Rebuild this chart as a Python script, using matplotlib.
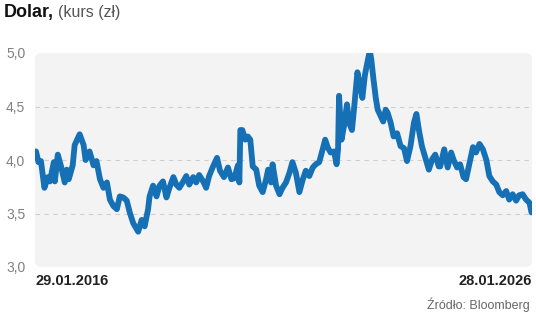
import matplotlib
matplotlib.use("Agg")
import matplotlib.pyplot as plt
from matplotlib.patches import FancyBboxPatch
from matplotlib import font_manager as fm

names = {f.name for f in fm.fontManager.ttflist}
NARROW = 'Liberation Sans Narrow' if 'Liberation Sans Narrow' in names else 'Liberation Sans'

# decimal-year time stamps and USD/PLN rate
years = [2016.08, 2016.13, 2016.18, 2016.25, 2016.32, 2016.36, 2016.44, 2016.46, 2016.52, 2016.58,
         2016.66, 2016.70, 2016.74, 2016.82, 2016.86, 2016.96, 2017.04, 2017.08, 2017.16, 2017.24,
         2017.30, 2017.37, 2017.44, 2017.51, 2017.57, 2017.64, 2017.71, 2017.77, 2017.84, 2017.91,
         2017.97, 2018.04, 2018.14, 2018.21, 2018.27, 2018.34, 2018.37, 2018.44, 2018.51, 2018.57,
         2018.64, 2018.71, 2018.77, 2018.85, 2018.91, 2018.97, 2019.05, 2019.11, 2019.17, 2019.25,
         2019.31, 2019.37, 2019.45, 2019.51, 2019.57, 2019.65, 2019.73, 2019.79, 2019.87, 2019.95,
         2020.02, 2020.08, 2020.15, 2020.18, 2020.20, 2020.24, 2020.30, 2020.35, 2020.40, 2020.45,
         2020.52, 2020.58, 2020.65, 2020.72, 2020.76, 2020.82, 2020.85, 2020.92, 2020.99, 2021.05,
         2021.12, 2021.19, 2021.25, 2021.32, 2021.39, 2021.46, 2021.52, 2021.59, 2021.66, 2021.72,
         2021.79, 2021.86, 2021.91, 2021.96, 2022.02, 2022.09, 2022.14, 2022.17, 2022.19, 2022.24,
         2022.29, 2022.35, 2022.39, 2022.45, 2022.49, 2022.56, 2022.61, 2022.66, 2022.71, 2022.76,
         2022.81, 2022.84, 2022.88, 2022.93, 2022.97, 2023.03, 2023.08, 2023.13, 2023.17, 2023.23,
         2023.29, 2023.36, 2023.43, 2023.50, 2023.56, 2023.63, 2023.70, 2023.75, 2023.80, 2023.86,
         2023.93, 2024.00, 2024.07, 2024.13, 2024.20, 2024.23, 2024.31, 2024.38, 2024.45, 2024.50,
         2024.57, 2024.63, 2024.70, 2024.75, 2024.82, 2024.89, 2024.95, 2025.02, 2025.09, 2025.16,
         2025.22, 2025.29, 2025.36, 2025.42, 2025.49, 2025.56, 2025.62, 2025.69, 2025.76, 2025.82,
         2025.89, 2025.96, 2026.03, 2026.07]
rate = [4.08, 3.98, 3.99, 3.74, 3.84, 3.80, 3.98, 3.80, 4.05, 3.95,
        3.79, 3.91, 3.82, 3.95, 4.14, 4.24, 4.14, 4.00, 4.08, 3.95,
        3.99, 3.82, 3.74, 3.79, 3.63, 3.57, 3.54, 3.66, 3.65, 3.62,
        3.51, 3.41, 3.33, 3.44, 3.38, 3.54, 3.66, 3.76, 3.66, 3.76,
        3.80, 3.65, 3.74, 3.84, 3.77, 3.74, 3.80, 3.85, 3.77, 3.84,
        3.79, 3.86, 3.80, 3.74, 3.85, 3.94, 4.02, 3.90, 3.84, 3.93,
        3.82, 3.83, 3.95, 3.79, 4.28, 4.28, 4.19, 4.22, 4.19, 3.94,
        3.91, 3.76, 3.70, 3.82, 3.91, 3.79, 3.96, 3.76, 3.68, 3.74,
        3.79, 3.88, 3.98, 3.88, 3.70, 3.82, 3.90, 3.85, 3.93, 3.96,
        3.98, 4.10, 4.19, 4.12, 4.07, 4.08, 3.96, 4.10, 4.60, 4.19,
        4.32, 4.52, 4.35, 4.28, 4.47, 4.82, 4.71, 4.58, 4.79, 4.91,
        5.02, 4.94, 4.77, 4.58, 4.47, 4.41, 4.36, 4.47, 4.44, 4.35,
        4.22, 4.25, 4.13, 4.11, 3.99, 4.13, 4.35, 4.43, 4.28, 4.13,
        4.02, 3.91, 4.01, 4.05, 3.94, 3.94, 4.10, 3.93, 4.07, 4.00,
        3.93, 3.96, 3.84, 3.82, 3.97, 4.12, 4.07, 4.15, 4.10, 4.00,
        3.85, 3.80, 3.77, 3.70, 3.67, 3.71, 3.63, 3.68, 3.62, 3.67,
        3.68, 3.63, 3.60, 3.51]

yticks = [3.0, 3.5, 4.0, 4.5, 5.0]
ytick_labels = ["3,0", "3,5", "4,0", "4,5", "5,0"]
grid_levels = [3.5, 4.0, 4.5]
start_label = "29.01.2016"
end_label = "28.01.2026"

W, H = 536, 317
fig = plt.figure(figsize=(W / 100, H / 100), dpi=100)
fig.patch.set_facecolor('white')
ax = fig.add_axes([35 / W, (H - 267) / H, (532 - 35) / W, (267 - 53) / H])
ax.set_facecolor('none')
for s in ax.spines.values():
    s.set_visible(False)

box = FancyBboxPatch((0, 0), 1, 1, boxstyle="round,pad=0,rounding_size=0.012",
                     mutation_aspect=(497 / 214), transform=ax.transAxes,
                     facecolor='#f3f3f3', edgecolor='none', zorder=0)
ax.add_patch(box)

for g in grid_levels:
    ax.axhline(g, color='#cfcfcf', lw=0.8, ls=(0, (4, 4)), zorder=1)

ax.plot(years, rate, color='#1570b5', lw=4.2, solid_joinstyle='round',
        solid_capstyle='round', zorder=3)

ax.set_xlim(2016.06, 2026.08)
ax.set_ylim(3.0, 5.0)
ax.set_yticks(yticks)
ax.set_yticklabels(ytick_labels, fontsize=10, color='#808080', family=[NARROW, 'DejaVu Sans'])
ax.tick_params(axis='y', length=0, pad=7)
ax.set_xticks([])
ax.tick_params(axis='x', length=0)

fig.text(35 / W, 1 - 281 / H, start_label, ha='left', va='center', fontsize=10.5,
         fontweight='bold', color='#222222', family=[NARROW, 'DejaVu Sans'])
fig.text(532 / W, 1 - 281 / H, end_label, ha='right', va='center', fontsize=10.5,
         fontweight='bold', color='#222222', family=[NARROW, 'DejaVu Sans'])
fig.text(530 / W, 1 - 305 / H, "Źródło: Bloomberg", ha='right', va='center', fontsize=9,
         color='#666666', family=[NARROW, 'DejaVu Sans'])

t1 = fig.text(4 / W, 1 - 13 / H, "Dolar,", ha='left', va='center', fontsize=13,
              fontweight='bold', color='#111111', family=[NARROW, 'DejaVu Sans'])
fig.canvas.draw()
bb = t1.get_window_extent()
fig.text((bb.x1 + 4) / W, 1 - 13 / H, "(kurs (zł)", ha='left', va='center', fontsize=11.5,
         color='#555555', family=[NARROW, 'DejaVu Sans'])

fig.savefig("out.png", dpi=100, facecolor='white')
